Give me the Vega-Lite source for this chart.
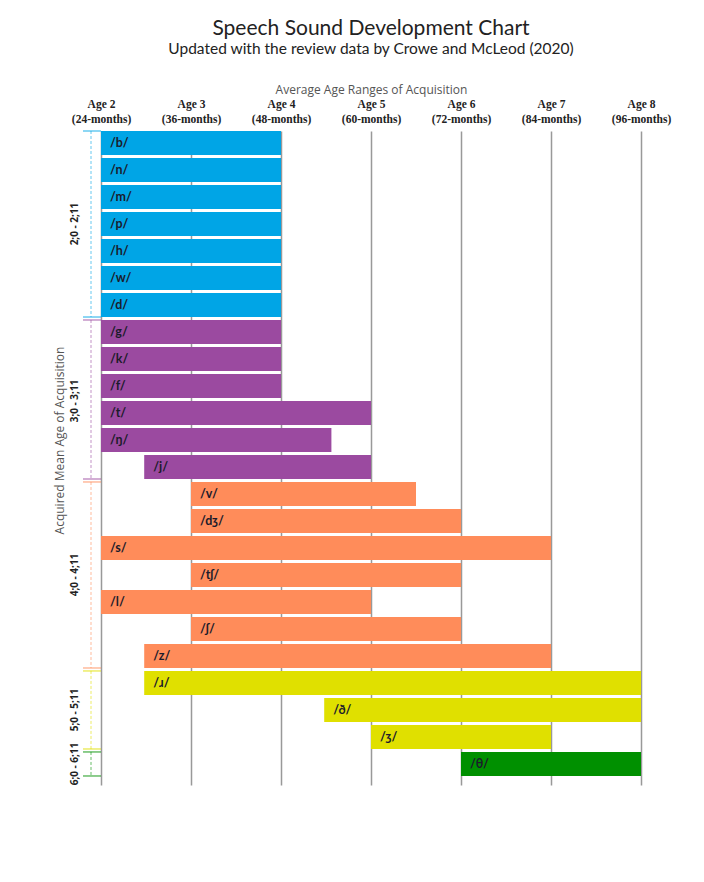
{
  "$schema": "https://vega.github.io/schema/vega-lite/v6.json",
  "width": 540,
  "height": 654,
  "autosize": {"type": "none"},
  "padding": {"left": 101, "top": 131, "right": 63, "bottom": 97},
  "background": "white",
  "title": {
    "text": "Speech Sound Development Chart",
    "subtitle": "Updated with the review data by Crowe and McLeod (2020)",
    "anchor": "middle",
    "font": "Lato",
    "fontSize": 21,
    "fontWeight": "normal",
    "color": "#222222",
    "subtitleFont": "Lato",
    "subtitleFontSize": 15.5,
    "subtitleColor": "#222222",
    "subtitlePadding": 3,
    "offset": 26
  },
  "config": {"view": {"stroke": null}},
  "datasets": {
    "sounds": [
      {"sound": "/b/", "start": 2, "end": 4, "group": "2;0 - 2;11"},
      {"sound": "/n/", "start": 2, "end": 4, "group": "2;0 - 2;11"},
      {"sound": "/m/", "start": 2, "end": 4, "group": "2;0 - 2;11"},
      {"sound": "/p/", "start": 2, "end": 4, "group": "2;0 - 2;11"},
      {"sound": "/h/", "start": 2, "end": 4, "group": "2;0 - 2;11"},
      {"sound": "/w/", "start": 2, "end": 4, "group": "2;0 - 2;11"},
      {"sound": "/d/", "start": 2, "end": 4, "group": "2;0 - 2;11"},
      {"sound": "/g/", "start": 2, "end": 4, "group": "3;0 - 3;11"},
      {"sound": "/k/", "start": 2, "end": 4, "group": "3;0 - 3;11"},
      {"sound": "/f/", "start": 2, "end": 4, "group": "3;0 - 3;11"},
      {"sound": "/t/", "start": 2, "end": 5, "group": "3;0 - 3;11"},
      {"sound": "/ŋ/", "start": 2, "end": 4.56, "group": "3;0 - 3;11"},
      {"sound": "/j/", "start": 2.48, "end": 5, "group": "3;0 - 3;11"},
      {"sound": "/v/", "start": 3, "end": 5.5, "group": "4;0 - 4;11"},
      {"sound": "/dʒ/", "start": 3, "end": 6, "group": "4;0 - 4;11"},
      {"sound": "/s/", "start": 2, "end": 7, "group": "4;0 - 4;11"},
      {"sound": "/tʃ/", "start": 3, "end": 6, "group": "4;0 - 4;11"},
      {"sound": "/l/", "start": 2, "end": 5, "group": "4;0 - 4;11"},
      {"sound": "/ʃ/", "start": 3, "end": 6, "group": "4;0 - 4;11"},
      {"sound": "/z/", "start": 2.48, "end": 7, "group": "4;0 - 4;11"},
      {"sound": "/ɹ/", "start": 2.48, "end": 8, "group": "5;0 - 5;11"},
      {"sound": "/ð/", "start": 4.48, "end": 8, "group": "5;0 - 5;11"},
      {"sound": "/ʒ/", "start": 5, "end": 7, "group": "5;0 - 5;11"},
      {"sound": "/θ/", "start": 6, "end": 8, "group": "6;0 - 6;11"}
    ],
    "groups": [
      {"group": "2;0 - 2;11", "first": "/b/", "last": "/d/", "mid": "/p/"},
      {"group": "3;0 - 3;11", "first": "/g/", "last": "/j/", "mid": "/t/"},
      {"group": "4;0 - 4;11", "first": "/v/", "last": "/z/", "mid": "/tʃ/"},
      {"group": "5;0 - 5;11", "first": "/ɹ/", "last": "/ʒ/", "mid": "/ð/"},
      {"group": "6;0 - 6;11", "first": "/θ/", "last": "/θ/", "mid": "/θ/"}
    ]
  },
  "layer": [
    {
      "data": {"name": "sounds"},
      "mark": {"type": "bar"},
      "encoding": {
        "x": {
          "field": "start",
          "type": "quantitative",
          "scale": {"domain": [2, 8], "nice": false, "zero": false},
          "axis": {
            "orient": "top",
            "title": "Average Age Ranges of Acquisition",
            "titleFont": "Open Sans",
            "titleFontSize": 12,
            "titleFontWeight": "normal",
            "titleColor": "#555555",
            "titleY": -42,
            "titleBaseline": "middle",
            "values": [2, 3, 4, 5, 6, 7, 8],
            "labelExpr": "['Age ' + datum.value, '(' + (datum.value * 12) + '-months)']",
            "labelFont": "Liberation Serif",
            "labelFontWeight": "bold",
            "labelFontSize": 11.5,
            "labelLineHeight": 15,
            "labelBaseline": "top",
            "labelPadding": 33,
            "labelColor": "#222222",
            "labelFlush": false,
            "labelOverlap": false,
            "ticks": false,
            "domain": false,
            "grid": true,
            "gridColor": "#999999",
            "gridWidth": 1.5
          }
        },
        "x2": {"field": "end"},
        "y": {
          "field": "sound",
          "type": "nominal",
          "scale": {
            "domain": ["/b/", "/n/", "/m/", "/p/", "/h/", "/w/", "/d/", "/g/", "/k/", "/f/", "/t/", "/ŋ/", "/j/", "/v/", "/dʒ/", "/s/", "/tʃ/", "/l/", "/ʃ/", "/z/", "/ɹ/", "/ð/", "/ʒ/", "/θ/"],
            "paddingInner": 0.11,
            "paddingOuter": 0.167,
            "align": 0
          },
          "axis": {
            "orient": "left",
            "title": "Acquired Mean Age of Acquisition",
            "labels": false,
            "ticks": false,
            "domain": false,
            "grid": false,
            "titleX": -42,
            "titleY": 309,
            "titleAngle": -90,
            "titleBaseline": "middle",
            "titleAlign": "center",
            "titleFont": "Open Sans",
            "titleFontSize": 12,
            "titleFontWeight": "normal",
            "titleColor": "#555555"
          }
        },
        "color": {
          "field": "group",
          "type": "nominal",
          "scale": {
            "domain": ["2;0 - 2;11", "3;0 - 3;11", "4;0 - 4;11", "5;0 - 5;11", "6;0 - 6;11"],
            "range": ["#00A5E6", "#9B4AA0", "#FF8C5A", "#E0E000", "#009000"]
          },
          "legend": null
        }
      }
    },
    {
      "data": {"name": "sounds"},
      "mark": {"type": "text", "align": "left", "baseline": "middle", "dx": 9, "font": "Lato", "fontWeight": "bold", "fontSize": 12.5, "color": "#1b1b2b"},
      "encoding": {
        "x": {"field": "start", "type": "quantitative"},
        "y": {"field": "sound", "type": "nominal"},
        "text": {"field": "sound"}
      }
    },
    {
      "data": {"name": "groups"},
      "mark": {"type": "rule", "strokeWidth": 1.5, "opacity": 0.6},
      "encoding": {
        "x": {"datum": 1.8, "type": "quantitative"},
        "x2": {"datum": 2.0},
        "y": {"field": "first", "type": "nominal", "bandPosition": 0},
        "color": {"field": "group", "type": "nominal"}
      }
    },
    {
      "data": {"name": "groups"},
      "mark": {"type": "rule", "strokeWidth": 1.5, "opacity": 0.6},
      "encoding": {
        "x": {"datum": 1.8, "type": "quantitative"},
        "x2": {"datum": 2.0},
        "y": {"field": "last", "type": "nominal", "bandPosition": 1},
        "color": {"field": "group", "type": "nominal"}
      }
    },
    {
      "data": {"name": "groups"},
      "mark": {"type": "rule", "strokeWidth": 1, "opacity": 0.6, "strokeDash": [3, 2]},
      "encoding": {
        "x": {"datum": 1.889, "type": "quantitative"},
        "y": {"field": "first", "type": "nominal", "bandPosition": 0},
        "y2": {"field": "last", "bandPosition": 1},
        "color": {"field": "group", "type": "nominal"}
      }
    },
    {
      "data": {"name": "groups"},
      "transform": [{"filter": "datum.group != '3;0 - 3;11'"}],
      "mark": {"type": "text", "angle": 270, "align": "center", "baseline": "middle", "font": "Open Sans", "fontWeight": "bold", "fontSize": 10, "color": "#222222"},
      "encoding": {
        "x": {"datum": 1.711, "type": "quantitative"},
        "y": {"field": "mid", "type": "nominal"},
        "text": {"field": "group"}
      }
    },
    {
      "data": {"name": "groups"},
      "transform": [{"filter": "datum.group == '3;0 - 3;11'"}],
      "mark": {"type": "text", "angle": 270, "align": "center", "baseline": "middle", "font": "Open Sans", "fontWeight": "bold", "fontSize": 10, "color": "#222222"},
      "encoding": {
        "x": {"datum": 1.711, "type": "quantitative"},
        "y": {"field": "mid", "type": "nominal", "bandPosition": 0},
        "text": {"field": "group"}
      }
    }
  ]
}
